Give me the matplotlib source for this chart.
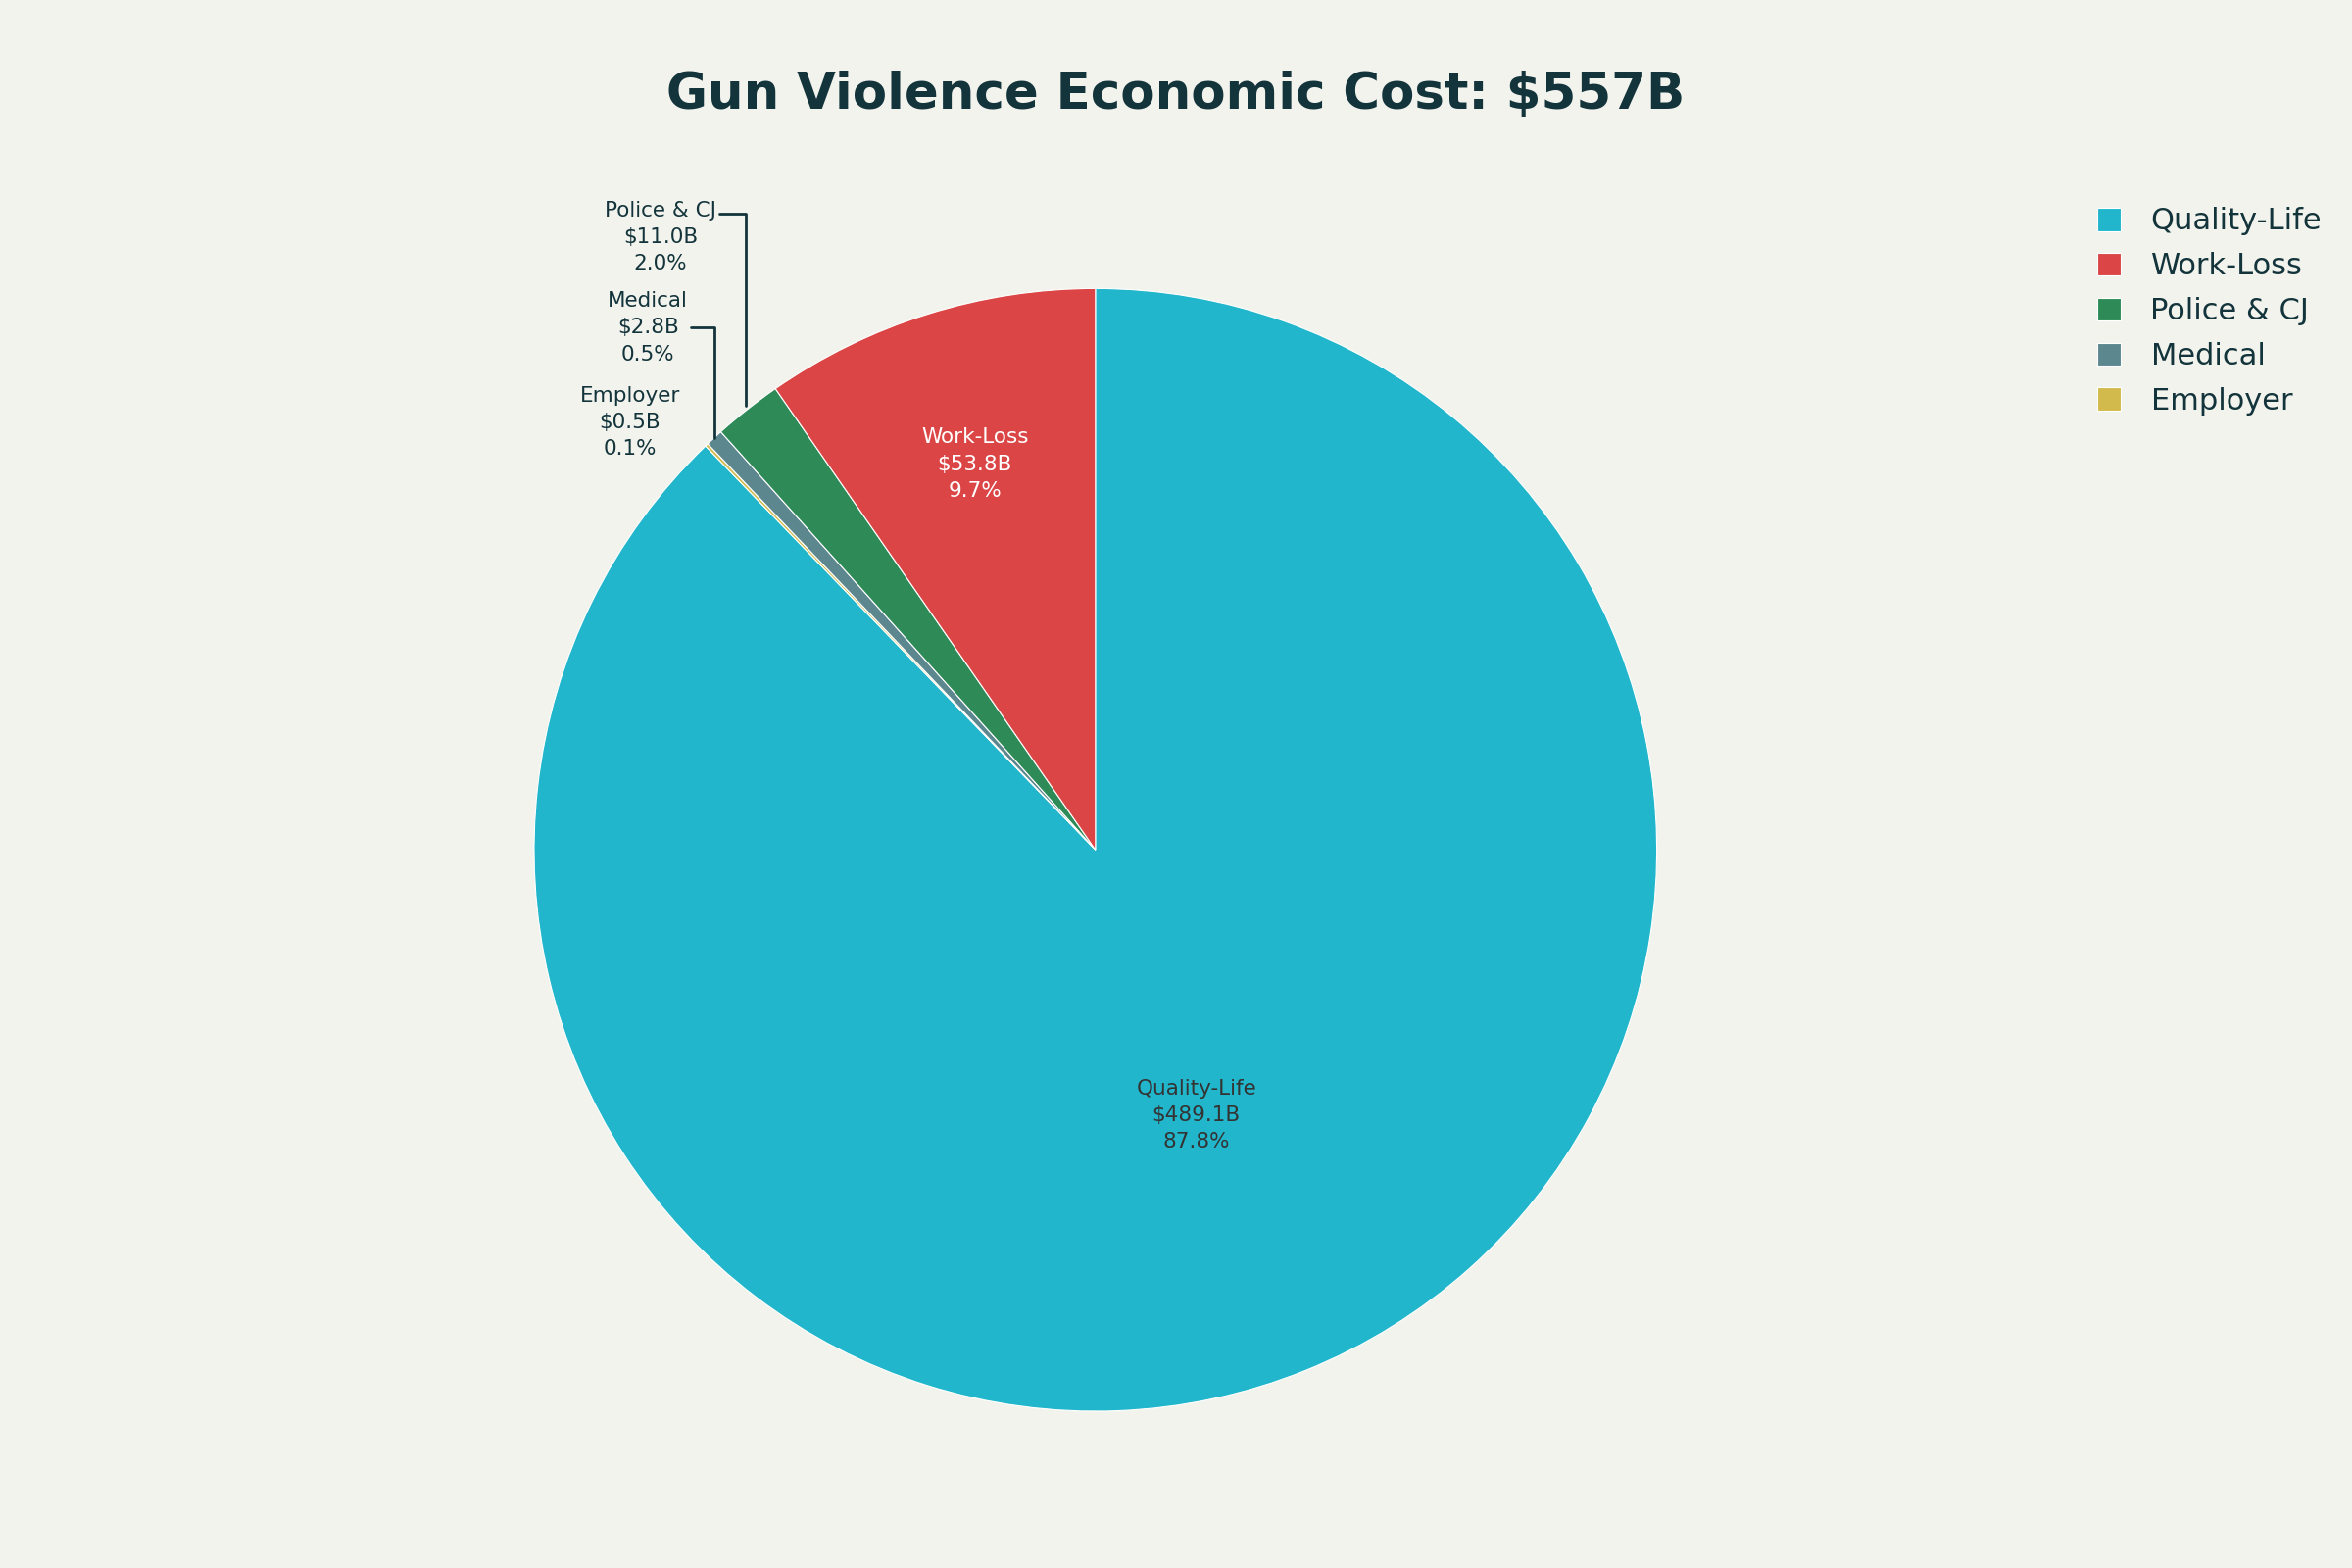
import matplotlib
matplotlib.use("Agg")
import matplotlib.pyplot as plt
import numpy as np

categories = ["Quality-Life", "Work-Loss", "Police & CJ", "Medical", "Employer"]
values = [489.1, 53.8, 11.0, 2.8, 0.5]
pcts = ["87.8%", "9.7%", "2.0%", "0.5%", "0.1%"]
colors = ["#21B6CB", "#DB4545", "#2E8B57", "#5D878F", "#D2BA4C"]
order = [0, 4, 3, 2, 1]  # clockwise from top as drawn

bg = "#F3F3EE"
tc = "#13343B"
fig = plt.figure(figsize=(24, 16), dpi=100, facecolor=bg)
ax = fig.add_axes([0.227, 0.1, 0.4775, 0.716])
ax.set_facecolor(bg)
vals = [values[i] for i in order]
cols = [colors[i] for i in order]
wedges, _ = ax.pie(vals, colors=cols, startangle=90, counterclock=False,
                   wedgeprops=dict(edgecolor="white", linewidth=0.8))
ax.set_xlim(-1, 1); ax.set_ylim(-1, 1); ax.set_aspect("equal")

def lab(i):
    return f"{categories[i]}\n${values[i]:.1f}B\n{pcts[i]}"

for w, i in zip(wedges, order):
    ang = np.deg2rad((w.theta1 + w.theta2) / 2)
    if i == 0:
        ax.text(0.6 * np.cos(ang) * 0.8, 0.6 * np.sin(ang) * 0.85, lab(i), ha="center", va="center",
                fontsize=15.5, color="#333333", linespacing=1.45)
    elif i == 1:
        ax.text(0.72 * np.cos(ang), 0.72 * np.sin(ang), lab(i), ha="center", va="center",
                fontsize=15.5, color="white", linespacing=1.45)

ax.annotate(lab(2), xy=(-0.623, 0.791), xytext=(-0.775, 1.091), ha="center", va="center",
            fontsize=15.5, color=tc, linespacing=1.45, annotation_clip=False,
            arrowprops=dict(arrowstyle="-", color=tc, lw=2, shrinkA=0, shrinkB=0,
                            connectionstyle="angle,angleA=0,angleB=90,rad=0",
                            relpos=(1.0, 0.82)))
ax.annotate(lab(3), xy=(-0.679, 0.733), xytext=(-0.797, 0.930), ha="center", va="center",
            fontsize=15.5, color=tc, linespacing=1.45, annotation_clip=False,
            arrowprops=dict(arrowstyle="-", color=tc, lw=2, shrinkA=0, shrinkB=0,
                            connectionstyle="angle,angleA=0,angleB=90,rad=0",
                            relpos=(1.0, 0.5)))
ax.text(-0.829, 0.762, lab(4), ha="center", va="center", fontsize=15.5, color=tc, linespacing=1.45)

fig.suptitle("Gun Violence Economic Cost: $557B", y=0.955, fontsize=37, fontweight="bold", color=tc)
leg = fig.legend(wedges[::-1][:0] or [wedges[order.index(i)] for i in range(5)], categories,
                 loc="upper left", bbox_to_anchor=(0.88, 0.885), frameon=False,
                 fontsize=22, handlelength=0.8, handleheight=0.8, labelspacing=0.55, handletextpad=1.0)
for t in leg.get_texts():
    t.set_color(tc)
fig.savefig("out.png", facecolor=bg)
